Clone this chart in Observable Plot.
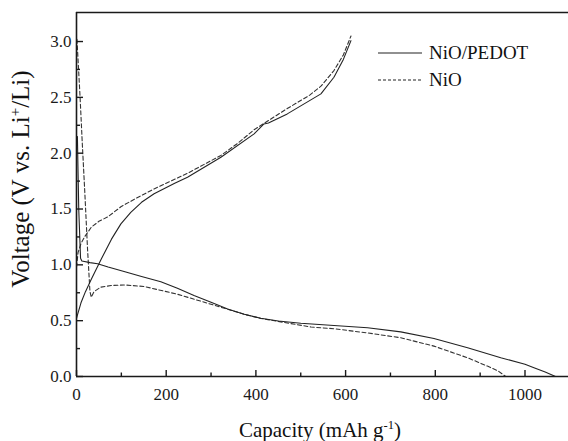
<!DOCTYPE html>
<html>
<head>
<meta charset="utf-8">
<script src="https://cdn.jsdelivr.net/npm/d3@7"></script>
<script src="https://cdn.jsdelivr.net/npm/@observablehq/plot@0.6"></script>
<style>
  html, body { margin: 0; padding: 0; background: #fff; }
  #wrap { position: relative; width: 568px; height: 441px; font-family: "Liberation Serif", "DejaVu Serif", "Times New Roman", serif; color: #111; }
  .abs { position: absolute; white-space: nowrap; line-height: 1; }
  sup { font-size: 0.6em; vertical-align: 0.6em; line-height: 0; }
</style>
</head>
<body>
<div id="wrap"></div>
<script>
// ---- data ----
// NiO/PEDOT (solid) discharge
const pedotDischargeCap = [0, 2, 5, 9, 12, 30, 47, 70.5, 108, 145, 188, 225, 262, 300, 337, 374, 411, 450, 500, 574, 649, 723, 797, 872, 946, 1000, 1020, 1045, 1068];
const pedotDischargeV   = [2.15, 2.15, 1.5, 1.06, 1.035, 1.02, 1.01, 0.98, 0.938, 0.895, 0.848, 0.79, 0.725, 0.665, 0.605, 0.557, 0.522, 0.497, 0.477, 0.457, 0.437, 0.40, 0.34, 0.258, 0.168, 0.11, 0.078, 0.04, 0.0];
// NiO/PEDOT (solid) charge
const pedotChargeCap = [0, 2, 10, 20, 33, 55, 78, 99, 121, 145, 173, 219, 247.5, 322, 396, 418, 428, 470, 545, 574, 595, 612];
const pedotChargeV   = [0.52, 0.55, 0.66, 0.76, 0.87, 1.05, 1.23, 1.367, 1.47, 1.56, 1.636, 1.73, 1.784, 1.963, 2.173, 2.262, 2.27, 2.352, 2.531, 2.68, 2.84, 3.008];
// NiO (dashed) discharge
const nioDischargeCap = [1, 8, 13, 18.5, 24.5, 30, 33, 39, 54, 77, 106, 151, 225, 300, 374, 411, 523, 574, 649, 723, 797, 872, 916, 940, 957];
const nioDischargeV   = [3.02, 2.5, 2.08, 1.65, 1.15, 0.76, 0.71, 0.76, 0.80, 0.815, 0.82, 0.806, 0.737, 0.647, 0.557, 0.52, 0.443, 0.428, 0.39, 0.347, 0.272, 0.168, 0.093, 0.05, 0.0];
// NiO (dashed) charge
const nioChargeCap = [0, 3.5, 10, 18, 33, 50, 70, 99, 130, 173, 247.5, 322, 360, 396, 470, 520, 545, 574, 595, 612];
const nioChargeV   = [0.98, 1.11, 1.19, 1.25, 1.337, 1.39, 1.43, 1.52, 1.59, 1.68, 1.82, 1.98, 2.09, 2.21, 2.40, 2.52, 2.60, 2.74, 2.88, 3.05];

const xMajor = [0, 200, 400, 600, 800, 1000];
const xMinor = [100, 300, 500, 700, 900];
const yMajor = [0.0, 0.5, 1.0, 1.5, 2.0, 2.5, 3.0];
const yMinor = [0.25, 0.75, 1.25, 1.75, 2.25, 2.75];
const xDomain = [0, 1097];
const yDomain = [0, 3.26];
const seriesNames = ["NiO/PEDOT", "NiO"];
const xTitle = "Capacity (mAh g<sup>-1</sup>)";
const yTitle = "Voltage (V vs. Li<sup>+</sup>/Li)";

// ---- build tables ----
function rows(cap, v, seg) { return cap.map((c, i) => ({cap: c, v: v[i], seg})); }
const pedot = [...rows(pedotDischargeCap, pedotDischargeV, "d"), ...rows(pedotChargeCap, pedotChargeV, "c")];
const nio = [...rows(nioDischargeCap, nioDischargeV, "d"), ...rows(nioChargeCap, nioChargeV, "c")];

const W = 568, H = 441, mL = 76, mR = 0, mT = 12, mB = 65;
const fw = W - mL - mR, fh = H - mT - mB;
const ink = "#1a1a1a";
const serif = "'Liberation Serif', 'DejaVu Serif', 'Times New Roman', serif";

const chart = Plot.plot({
  width: W, height: H,
  marginLeft: mL, marginRight: mR, marginTop: mT, marginBottom: mB,
  style: {fontFamily: serif, fontSize: "17px", color: ink, background: "#fff"},
  x: {domain: xDomain, axis: null},
  y: {domain: yDomain, axis: null},
  marks: [
    Plot.line(nio, {x: "cap", y: "v", z: "seg", stroke: "#333", strokeWidth: 1.1, strokeDasharray: "4,2.5"}),
    Plot.line(pedot, {x: "cap", y: "v", z: "seg", stroke: "#222", strokeWidth: 1.1}),
    // ticks (inward)
    Plot.ruleX(xMajor, {stroke: ink, strokeWidth: 1.4, insetTop: fh - 6}),
    Plot.ruleX(xMinor, {stroke: ink, strokeWidth: 1.4, insetTop: fh - 3.5}),
    Plot.ruleY(yMajor, {stroke: ink, strokeWidth: 1.4, insetRight: fw - 7}),
    Plot.ruleY(yMinor, {stroke: ink, strokeWidth: 1.4, insetRight: fw - 4}),
    // frame: left, bottom, top
    Plot.ruleX([xDomain[0]], {stroke: ink, strokeWidth: 1.6}),
    Plot.ruleY([yDomain[0]], {stroke: ink, strokeWidth: 1.6}),
    Plot.ruleY([yDomain[1]], {stroke: ink, strokeWidth: 1.6}),
    // tick labels
    Plot.axisX({ticks: xMajor, tickSize: 0, tickPadding: 11, label: null, fontSize: 17, fontFamily: serif, tickFormat: d3.format("d")}),
    Plot.axisY({ticks: yMajor, tickSize: 0, tickPadding: 5, label: null, fontSize: 17, fontFamily: serif, tickFormat: d3.format(".1f")})
  ]
});

const wrap = document.getElementById("wrap");
wrap.appendChild(chart);

function addDiv(html, css) {
  const d = document.createElement("div");
  d.className = "abs";
  d.innerHTML = html;
  Object.assign(d.style, css);
  wrap.appendChild(d);
  return d;
}
// axis titles
addDiv(xTitle, {left: "320px", top: "420px", fontSize: "21px", transform: "translateX(-50%)"});
addDiv(yTitle, {left: "20px", top: "179px", fontSize: "25px", transform: "translate(-50%,-50%) rotate(-90deg)"});

// legend
const legendDash = [null, "3,2"];
seriesNames.forEach((name, i) => {
  const yLine = 53 + i * 27;
  const sw = document.createElementNS("http://www.w3.org/2000/svg", "svg");
  sw.setAttribute("width", 46); sw.setAttribute("height", 10);
  sw.style.position = "absolute"; sw.style.left = "377px"; sw.style.top = (yLine - 5) + "px";
  const ln = document.createElementNS("http://www.w3.org/2000/svg", "line");
  ln.setAttribute("x1", 1); ln.setAttribute("x2", 45); ln.setAttribute("y1", 5); ln.setAttribute("y2", 5);
  ln.setAttribute("stroke", "#222"); ln.setAttribute("stroke-width", 1.1);
  if (legendDash[i]) ln.setAttribute("stroke-dasharray", legendDash[i]);
  sw.appendChild(ln);
  wrap.appendChild(sw);
  addDiv(name, {left: "429px", top: (yLine - 10) + "px", fontSize: "19px"});
});
</script>
</body>
</html>
